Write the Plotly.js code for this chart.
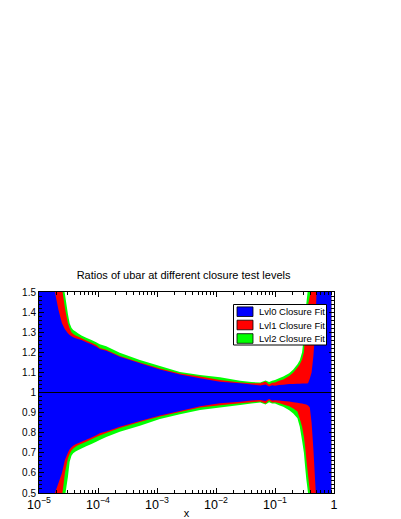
<!DOCTYPE html>
<html>
<head>
<meta charset="utf-8">
<script src="https://cdn.plot.ly/plotly-3.0.1.min.js"></script>
<style>
  html, body { margin: 0; padding: 0; background: #fff; }
  #chart { width: 401px; height: 519px; }
</style>
</head>
<body>
<div id="chart"></div>
<script>
// x grid shared by the three closure levels
const xPts = [1e-5, 1.26e-5, 1.58e-5, 1.86e-5, 2.14e-5, 2.45e-5, 2.75e-5, 3.09e-5, 3.31e-5, 3.55e-5,
  3.80e-5, 4.17e-5, 4.57e-5, 5.25e-5, 6.31e-5, 7.76e-5, 9.33e-5, 1.07e-4, 1.38e-4, 2.34e-4,
  5.13e-4, 1.12e-3, 2.45e-3, 5.37e-3, 1.17e-2, 2.57e-2, 3.98e-2, 5.62e-2, 6.92e-2, 7.94e-2,
  8.91e-2, 0.1, 0.117, 0.138, 0.174, 0.204, 0.240, 0.263, 0.288, 0.309,
  0.324, 0.339, 0.363, 0.389, 0.417, 0.447, 0.479, 0.513, 0.631, 0.794, 0.9];

// Lvl0 band
const lvl0Up = [2.6, 2.0, 1.7, 1.50, 1.41, 1.345, 1.315, 1.295, 1.286, 1.280,
  1.275, 1.270, 1.266, 1.261, 1.250, 1.240, 1.228, 1.216, 1.208, 1.178,
  1.145, 1.115, 1.090, 1.071, 1.054, 1.046, 1.040, 1.035, 1.040, 1.030,
  1.036, 1.034, 1.037, 1.038, 1.042, 1.042, 1.043, 1.044, 1.045, 1.045,
  1.045, 1.045, 1.046, 1.07, 1.10, 1.18, 1.30, 1.55, 2.2, 2.8, 3.0];
const lvl0Lo = [-0.6, 0.0, 0.3, 0.50, 0.55, 0.60, 0.664, 0.700, 0.718, 0.728,
  0.735, 0.742, 0.748, 0.755, 0.765, 0.776, 0.787, 0.797, 0.806, 0.830,
  0.858, 0.885, 0.908, 0.932, 0.946, 0.954, 0.960, 0.963, 0.958, 0.968,
  0.960, 0.962, 0.960, 0.958, 0.955, 0.952, 0.949, 0.947, 0.945, 0.943,
  0.942, 0.940, 0.935, 0.925, 0.85, 0.72, 0.56, 0.40, -0.2, -0.8, -1.0];

// Lvl1 band
const lvl1Up = [2.8, 2.2, 1.85, 1.65, 1.57, 1.52, 1.42, 1.345, 1.32, 1.30,
  1.291, 1.284, 1.278, 1.270, 1.259, 1.248, 1.236, 1.222, 1.213, 1.182,
  1.149, 1.119, 1.094, 1.079, 1.062, 1.050, 1.046, 1.046, 1.055, 1.040,
  1.048, 1.050, 1.058, 1.065, 1.082, 1.100, 1.125, 1.140, 1.165, 1.20,
  1.286, 1.36, 1.435, 1.48, 1.55, 1.8, 2.2, 2.6, 3.0, 3.0, 3.0];
const lvl1Lo = [-0.8, -0.2, 0.15, 0.35, 0.43, 0.48, 0.60, 0.672, 0.695, 0.712,
  0.722, 0.730, 0.737, 0.745, 0.755, 0.768, 0.778, 0.786, 0.798, 0.824,
  0.853, 0.880, 0.903, 0.925, 0.936, 0.946, 0.952, 0.955, 0.945, 0.962,
  0.950, 0.952, 0.948, 0.940, 0.932, 0.921, 0.905, 0.87, 0.83, 0.78,
  0.73, 0.67, 0.59, 0.51, 0.42, 0.2, -0.2, -0.6, -1.0, -1.0, -1.0];

// Lvl2 band
const lvl2Up = [3.0, 2.4, 2.0, 1.78, 1.65, 1.57, 1.49, 1.39, 1.344, 1.322,
  1.311, 1.303, 1.295, 1.284, 1.273, 1.261, 1.250, 1.240, 1.230, 1.198,
  1.162, 1.132, 1.102, 1.087, 1.076, 1.059, 1.052, 1.050, 1.060, 1.052,
  1.058, 1.062, 1.071, 1.079, 1.096, 1.115, 1.140, 1.160, 1.20, 1.28,
  1.37, 1.44, 1.52, 1.7, 2.0, 2.5, 3.0, 3.0, 3.0, 3.0, 3.0];
const lvl2Lo = [-1.0, -0.4, 0.0, 0.2, 0.3, 0.4, 0.48, 0.58, 0.655, 0.685,
  0.698, 0.706, 0.713, 0.721, 0.732, 0.744, 0.755, 0.764, 0.778, 0.805,
  0.835, 0.868, 0.892, 0.913, 0.925, 0.938, 0.945, 0.950, 0.940, 0.952,
  0.945, 0.945, 0.936, 0.929, 0.912, 0.895, 0.872, 0.83, 0.76, 0.70,
  0.63, 0.57, 0.50, 0.42, 0.2, -0.2, -0.6, -1.0, -1.0, -1.0, -1.0];

const names = ["Lvl0 Closure Fit", "Lvl1 Closure Fit", "Lvl2 Closure Fit"];
const colors = ["#0000ff", "#ff0000", "#00ff00"];

// plot frame in pixels
const L = 39, R = 334, T = 292, B = 493;
const px2x = (px) => (px - L) / (R - L);
const py2y = (py) => (B - py) / (B - T);

// lower edge (no fill) then upper edge filled down to it
function band(up, lo, i) {
  return [
    { type: "scatter", mode: "lines", x: xPts, y: lo, line: { width: 0, color: colors[i], simplify: false },
      showlegend: false, hoverinfo: "skip" },
    { type: "scatter", mode: "lines", x: xPts, y: up, fill: "tonexty", fillcolor: colors[i],
      line: { width: 0, color: colors[i], simplify: false }, name: names[i], showlegend: false, hoverinfo: "skip" },
  ];
}

// widest band first, Lvl0 ends up on top
const data = [].concat(band(lvl2Up, lvl2Lo, 2), band(lvl1Up, lvl1Lo, 1), band(lvl0Up, lvl0Lo, 0));

const shapes = [
  { type: "line", xref: "paper", yref: "y", x0: 0, x1: 1, y0: 1, y1: 1, line: { color: "#000", width: 1 } },
  { type: "rect", xref: "paper", yref: "paper", x0: px2x(233.5), x1: px2x(326.5), y0: py2y(345), y1: py2y(304.5),
    fillcolor: "#fff", line: { color: "#000", width: 1 } },
];
const annotations = [];
const rowY = [311.7, 325, 338.5];
rowY.forEach((cy, i) => {
  shapes.push({ type: "rect", xref: "paper", yref: "paper", x0: px2x(237), x1: px2x(253),
    y0: py2y(cy + 4.8), y1: py2y(cy - 4.8), fillcolor: colors[i], line: { color: "#000", width: 0.8 } });
  annotations.push({ xref: "paper", yref: "paper", x: px2x(256.5), y: py2y(cy), xanchor: "left", yanchor: "middle",
    text: names[i], showarrow: false, font: { size: 9.5, color: "#000" } });
});

const layout = {
  width: 401,
  height: 519,
  paper_bgcolor: "#fff",
  plot_bgcolor: "#fff",
  font: { family: "Liberation Sans, Arial, sans-serif", color: "#000", size: 10 },
  margin: { l: L, r: 401 - R, t: T, b: 519 - B },
  showlegend: false,
  title: {
    text: "Ratios of ubar at different closure test levels",
    font: { size: 11 },
    xref: "paper", x: 0.49, xanchor: "center",
    yref: "container", y: 1 - 275 / 519, yanchor: "middle",
  },
  xaxis: {
    type: "log",
    range: [-5, 0],
    dtick: 1,
    exponentformat: "power",
    showgrid: false,
    zeroline: false,
    showline: true,
    linecolor: "#000",
    linewidth: 1,
    mirror: "allticks",
    ticks: "inside",
    ticklen: 5,
    tickcolor: "#000",
    minor: { dtick: "D1", ticks: "inside", ticklen: 3, tickcolor: "#000", showgrid: false },
    tickfont: { size: 10 },
    title: { text: "x", font: { size: 11 }, standoff: 0 },
  },
  yaxis: {
    range: [0.5, 1.5],
    dtick: 0.1,
    showgrid: false,
    zeroline: false,
    showline: true,
    linecolor: "#000",
    linewidth: 1,
    mirror: "allticks",
    ticks: "inside",
    ticklen: 5,
    tickcolor: "#000",
    minor: { dtick: 0.02, ticks: "inside", ticklen: 3, tickcolor: "#000", showgrid: false },
    tickfont: { size: 10 },
  },
  shapes: shapes,
  annotations: annotations,
};

Plotly.newPlot("chart", data, layout, { displayModeBar: false, staticPlot: true });
</script>
</body>
</html>
